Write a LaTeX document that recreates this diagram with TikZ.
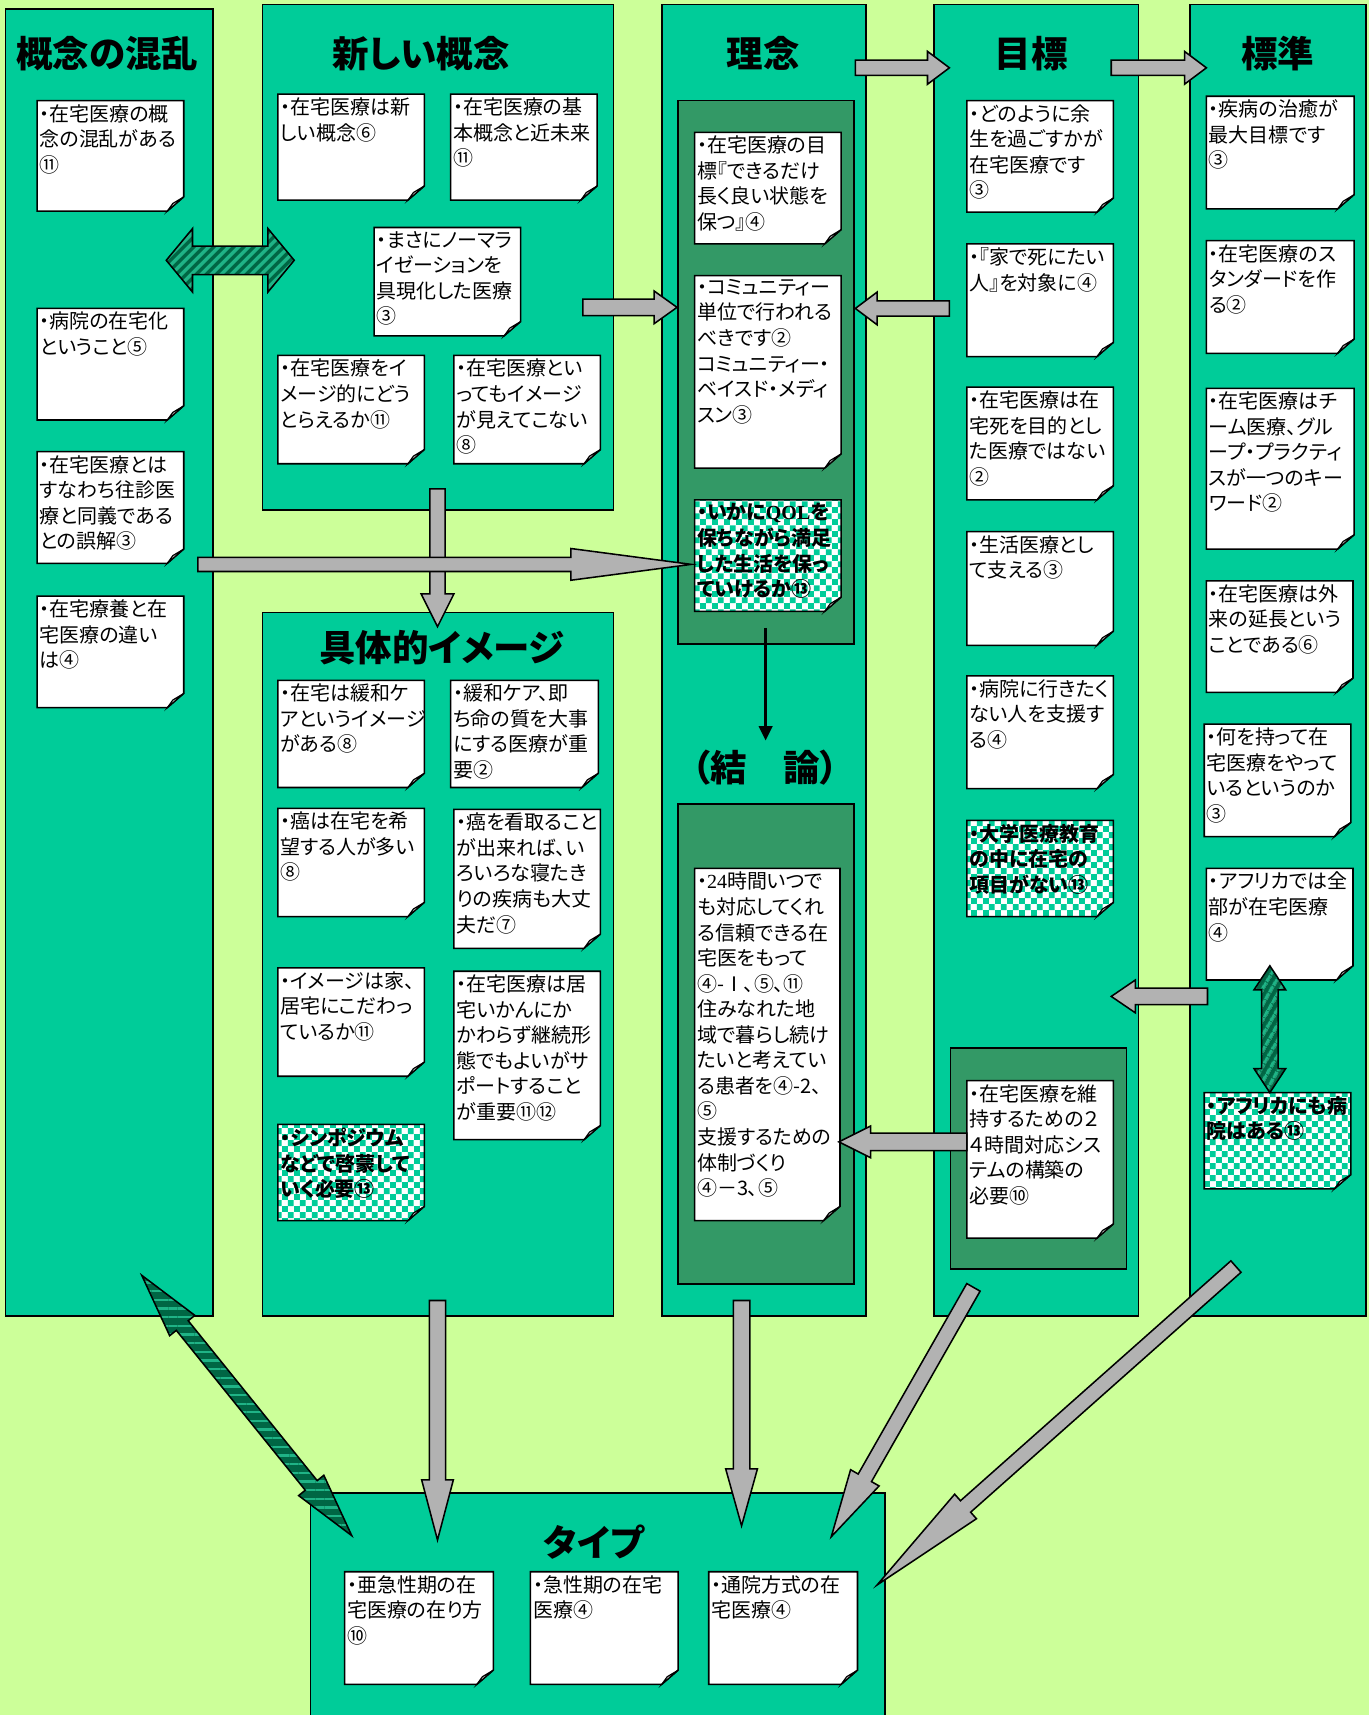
\documentclass[tikz,border=0pt]{standalone}
\usepackage{fontspec}
\setmainfont{Noto Sans CJK JP}[RawFeature=+palt]
\newfontfamily\latinserif{Liberation Serif}
\usetikzlibrary{calc,patterns,patterns.meta,arrows.meta}

\definecolor{bgreen}{HTML}{CCFF99}
\definecolor{colteal}{HTML}{00CC99}
\definecolor{darkgreen}{HTML}{339966}
\definecolor{arrowgray}{HTML}{B2B2B2}
\definecolor{flapgray}{HTML}{C8C8C8}
\definecolor{stripedark}{HTML}{006644}
\definecolor{stripelight}{HTML}{1FB386}

\pgfdeclarepatternformonly{notechk}{\pgfpointorigin}{\pgfqpoint{6.4pt}{6.4pt}}{\pgfqpoint{6.4pt}{6.4pt}}{%
  \pgfpathrectangle{\pgfpointorigin}{\pgfqpoint{3.25pt}{3.25pt}}%
  \pgfpathrectangle{\pgfqpoint{3.2pt}{3.2pt}}{\pgfqpoint{3.25pt}{3.25pt}}%
  \pgfusepath{fill}}

\tikzset{
  column/.style={draw=black, line width=0.9pt, fill=colteal},
  darkbox/.style={draw=black, line width=0.9pt, fill=darkgreen},
  heading/.style={font=\fontsize{19}{22}\selectfont\bfseries, inner sep=0pt},
  notebox/.style={draw=black, line width=0.8pt, fill=white},
  checkbox/.style={draw=black, line width=0.8pt, preaction={fill=white}, pattern=notechk, pattern color=colteal},
  noteflap/.style={draw=black, line width=0.6pt, fill=flapgray},
  notetext/.style={anchor=north west, inner sep=0pt, align=left, font=\fontsize{10.4}{13.3}\selectfont},
  notebox font/.style={},
  checkbox font/.style={font=\fontsize{10.4}{13.3}\selectfont\bfseries},
  grayarrow/.style={draw=black, line width=0.8pt, fill=arrowgray},
  stripearrow/.style n args={3}{draw=black, line width=0.8pt, preaction={fill=stripedark},
    pattern={Lines[angle=#1,distance=#2,line width=#3]}, pattern color=stripelight},
}

% memo with folded corner: [box style]{name}{x1}{y1}{x2}{y2}{text}
\newcommand{\memo}[7][notebox]{%
  \draw[#1] (#3,#4) -- (#5,#4) -- (#5,#6-13) -- (#5-15,#6) -- (#3,#6) -- cycle;
  \draw[noteflap] (#5,#6-13) -- (#5-10,#6-7) -- (#5-15,#6) -- cycle;
  \node[notetext, #1 font] (#2) at (#3+2,#4+3) {#7};
}

% block arrow: [style]{from}{to}{shaft half}{head half}{head length}
\newcommand{\blockarrow}[6][grayarrow]{%
  \pgfmathsetmacro\arrS{#4*0.02}\pgfmathsetmacro\arrH{#5*0.02}\pgfmathsetmacro\arrL{#6*0.02}%
  \coordinate (hb) at ($(#3)!\arrL cm!(#2)$);
  \draw[#1] ($(#2)!\arrS cm!90:(#3)$) -- ($(hb)!\arrS cm!90:(#3)$) -- ($(hb)!\arrH cm!90:(#3)$)
    -- (#3) -- ($(hb)!\arrH cm!-90:(#3)$) -- ($(hb)!\arrS cm!-90:(#3)$) -- ($(#2)!\arrS cm!-90:(#3)$) -- cycle;
}

% double block arrow: [style]{end}{end}{shaft half}{head half}{head length}
\newcommand{\dblarrow}[6][grayarrow]{%
  \pgfmathsetmacro\arrS{#4*0.02}\pgfmathsetmacro\arrH{#5*0.02}\pgfmathsetmacro\arrL{#6*0.02}%
  \coordinate (ha) at ($(#2)!\arrL cm!(#3)$);
  \coordinate (hb) at ($(#3)!\arrL cm!(#2)$);
  \draw[#1] (#2) -- ($(ha)!\arrH cm!90:(#3)$) -- ($(ha)!\arrS cm!90:(#3)$) -- ($(hb)!\arrS cm!90:(#3)$)
    -- ($(hb)!\arrH cm!90:(#3)$) -- (#3) -- ($(hb)!\arrH cm!-90:(#3)$) -- ($(hb)!\arrS cm!-90:(#3)$)
    -- ($(ha)!\arrS cm!-90:(#3)$) -- ($(ha)!\arrH cm!-90:(#3)$) -- cycle;
}

\begin{document}
\begin{tikzpicture}[x=0.02cm, y=-0.02cm]
    \useasboundingbox (0,0) rectangle (1252,1568);
    \fill[bgreen] (0,0) rectangle (1252,1568);

    % Columns
    \path[column] (5,8) rectangle (195,1203);
    \path[column] (240,4) rectangle (561,466);
    \path[column] (240,560) rectangle (561,1203);
    \path[column] (605,4) rectangle (792,1203);
    \path[column] (854,4) rectangle (1041,1203);
    \path[column] (1088,4) rectangle (1249,1203);
    \path[column] (284,1365) rectangle (809,1575);

    % Inner boxes
    \path[darkbox] (620,92) rectangle (781,589);
    \path[darkbox] (620,735) rectangle (781,1174);
    \path[darkbox] (869,958) rectangle (1030,1160);

    % Headings
    \node[heading] (konran) at (98,49) {概念の混乱};
    \node[heading] (atarashii) at (385,49) {新しい概念};
    \node[heading] (rinen) at (698,49) {理念};
    \node[heading] (mokuhyou) at (943,49) {目標};
    \node[heading] (hyoujun) at (1168,49) {標準};
    \node[heading] (gutai) at (404,592) {具体的イメージ};
    \node[heading] (ketsuron) at (700,702) {（結　論）};
    \node[heading] (taipu) at (543,1410) {タイプ};

    % Konran no memos
    \memo{konran1}{34}{92}{168}{193}{・在宅医療の概\\念の混乱がある\\⑪}
    \memo{konran2}{34}{282}{168}{384}{・病院の在宅化\\ということ⑤}
    \memo{konran3}{34}{413}{168}{515}{・在宅医療とは\\すなわち往診医\\療と同義である\\との誤解③}
    \memo{konran4}{34}{545}{168}{647}{・在宅療養と在\\宅医療の違い\\は④}

    % Atarashii gainen memos
    \memo{atara1}{254}{86}{388}{183}{・在宅医療は新\\しい概念⑥}
    \memo{atara2}{412}{86}{546}{183}{・在宅医療の基\\本概念と近未来\\⑪}
    \memo{atara3}{342}{208}{476}{307}{・まさにノーマラ\\イゼーションを\\具現化した医療\\③}
    \memo{atara4}{254}{325}{388}{424}{・在宅医療をイ\\メージ的にどう\\とらえるか⑪}
    \memo{atara5}{415}{325}{549}{424}{・在宅医療とい\\ってもイメージ\\が見えてこない\\⑧}

    % Gutaiteki image memos
    \memo{gutai1}{254}{622}{388}{720}{・在宅は緩和ケ\\アというイメージ\\がある⑧}
    \memo{gutai2}{412}{622}{547}{720}{・緩和ケア、即\\ち命の質を大事\\にする医療が重\\要②}
    \memo{gutai3}{254}{739}{388}{838}{・癌は在宅を希\\望する人が多い\\⑧}
    \memo{gutai4}{415}{740}{549}{867}{・癌を看取ること\\が出来れば、い\\ろいろな寝たき\\りの疾病も大丈\\夫だ⑦}
    \memo{gutai5}{254}{885}{388}{984}{・イメージは家、\\居宅にこだわっ\\ているか⑪}
    \memo{gutai6}{415}{888}{549}{1042}{・在宅医療は居\\宅いかんにか\\かわらず継続形\\態でもよいがサ\\ポートすること\\が重要⑪⑫}
    \memo[checkbox]{gutai7}{254}{1028}{388}{1116}{・シンポジウム\\などで啓蒙して\\いく必要⑬}

    % Rinen memos
    \memo{rinen1}{635}{121}{769}{223}{・在宅医療の目\\標『できるだけ\\長く良い状態を\\保つ』④}
    \memo{rinen2}{635}{252}{769}{428}{・コミュニティー\\単位で行われる\\べきです②\\コミュニティー・\\ベイスド・メディ\\スン③}
    \memo[checkbox]{rinen3}{635}{457}{769}{559}{・いかに{\latinserif QOL}を\\保ちながら満足\\した生活を保っ\\ていけるか⑬}
    \memo{ketsu1}{635}{794}{768}{1116}{・{\latinserif 24}時間いつで\\も対応してくれ\\る信頼できる在\\宅医をもって\\④-Ⅰ、⑤、⑪\\住みなれた地\\域で暮らし続け\\たいと考えてい\\る患者を④-2、\\⑤\\支援するための\\体制づくり\\④－3、⑤}

    % Mokuhyou memos
    \memo{moku1}{884}{92}{1018}{194}{・どのように余\\生を過ごすかが\\在宅医療です\\③}
    \memo{moku2}{884}{223}{1018}{326}{・『家で死にたい\\人』を対象に④}
    \memo{moku3}{884}{354}{1018}{457}{・在宅医療は在\\宅死を目的とし\\た医療ではない\\②}
    \memo{moku4}{884}{486}{1018}{590}{・生活医療とし\\て支える③}
    \memo{moku5}{884}{618}{1018}{721}{・病院に行きたく\\ない人を支援す\\る④}
    \memo[checkbox]{moku6}{884}{750}{1018}{838}{・大学医療教育\\の中に在宅の\\項目がない⑬}
    \memo{moku7}{884}{988}{1018}{1132}{・在宅医療を維\\持するための２\\４時間対応シス\\テムの構築の\\必要⑩}

    % Hyoujun memos
    \memo{hyou1}{1103}{88}{1238}{191}{・疾病の治癒が\\最大目標です\\③}
    \memo{hyou2}{1103}{220}{1238}{323}{・在宅医療のス\\タンダードを作\\る②}
    \memo{hyou3}{1103}{355}{1238}{502}{・在宅医療はチ\\ーム医療、グル\\ープ・プラクティ\\スが一つのキー\\ワード②}
    \memo{hyou4}{1103}{531}{1237}{633}{・在宅医療は外\\来の延長という\\ことである⑥}
    \memo{hyou5}{1101}{662}{1235}{765}{・何を持って在\\宅医療をやって\\いるというのか\\③}
    \memo{hyou6}{1103}{794}{1237}{896}{・アフリカでは全\\部が在宅医療\\④}
    \memo[checkbox]{hyou7}{1101}{999}{1235}{1087}{・アフリカにも病\\院はある⑬}

    % Taipu memos
    \memo{type1}{315}{1437}{451}{1540}{・亜急性期の在\\宅医療の在り方\\⑩}
    \memo{type2}{485}{1437}{620}{1540}{・急性期の在宅\\医療④}
    \memo{type3}{648}{1437}{784}{1540}{・通院方式の在\\宅医療④}

    % Arrow ends
    \coordinate (rinenR) at (782,62);   \coordinate (mokuL) at (868,62);
    \coordinate (mokuR) at (1016,62);   \coordinate (hyouL) at (1103,62);
    \coordinate (ataraR) at (533,281);  \coordinate (rinen2L) at (619,281);
    \coordinate (moku2L) at (868,282);  \coordinate (rinen2R) at (782,282);
    \coordinate (ataraB) at (400,447);  \coordinate (gutaiT) at (400,573);
    \coordinate (konranR) at (181,516); \coordinate (rinen3L) at (632,516);
    \coordinate (rinen3B) at (700,574); \coordinate (ketsuT) at (700,677);
    \coordinate (moku7L) at (884,1044); \coordinate (ketsu1R) at (767,1044);
    \coordinate (hyou6L) at (1104,911); \coordinate (mokuIn) at (1016,911);
    \coordinate (hyou6B) at (1161,883); \coordinate (hyou7T) at (1161,999);
    \coordinate (konranE) at (152,238); \coordinate (ataraW) at (269,238);
    \coordinate (konranB) at (129.6,1166); \coordinate (taipuNW) at (321.6,1404);
    \coordinate (gutaiB) at (400,1189); \coordinate (taipu1) at (400,1408);
    \coordinate (rinenB) at (678,1189); \coordinate (taipu2) at (678,1395);
    \coordinate (mokuB) at (890,1177);  \coordinate (taipu3) at (760,1405);
    \coordinate (hyouB) at (1130,1158); \coordinate (taipuE) at (802,1449);

    % Gray arrows
    \blockarrow{rinenR}{mokuL}{7}{15}{20}
    \blockarrow{mokuR}{hyouL}{7}{15}{20}
    \blockarrow{ataraR}{rinen2L}{7.5}{15}{21}
    \blockarrow{moku2L}{rinen2R}{7}{15}{20}
    \blockarrow{ataraB}{gutaiT}{7}{15}{30}
    \blockarrow{konranR}{rinen3L}{6.5}{14.5}{110}
    \blockarrow{moku7L}{ketsu1R}{8}{14.5}{29}
    \blockarrow{hyou6L}{mokuIn}{7.5}{15}{22}
    \blockarrow{gutaiB}{taipu1}{7.5}{14.5}{55}
    \blockarrow{rinenB}{taipu2}{7.5}{14.5}{52}
    \blockarrow{mokuB}{taipu3}{7}{15}{62}
    \blockarrow{hyouB}{taipuE}{7}{15}{108}

    % Striped double arrows
    \dblarrow[stripearrow={45}{4pt}{2pt}]{konranE}{ataraW}{13}{29}{24}
    \dblarrow[stripearrow={60}{4pt}{1.8pt}]{hyou6B}{hyou7T}{7.5}{14.5}{22}
    \dblarrow[stripearrow={0}{4.5pt}{1.2pt}]{konranB}{taipuNW}{7}{14.8}{59}

    % Conclusion arrow
    \draw[line width=1.4pt, -{Triangle[width=7pt,length=7.5pt]}] (rinen3B) -- (ketsuT);
\end{tikzpicture}
\end{document}
